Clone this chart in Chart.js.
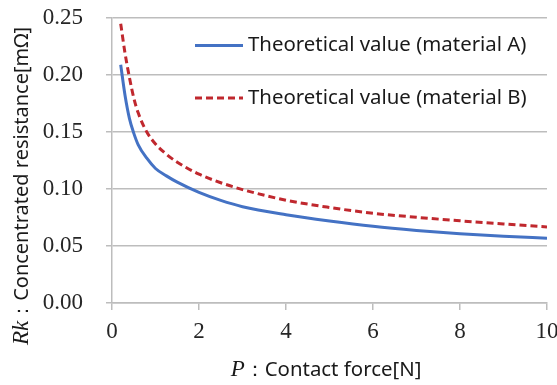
<!DOCTYPE html>
<html>
<head>
<meta charset="utf-8">
<script src="https://cdn.jsdelivr.net/npm/chart.js@4/dist/chart.umd.min.js"></script>
<style>
  html, body { margin: 0; padding: 0; background: #fff; }
  #wrap { position: relative; width: 557px; height: 385px; }
</style>
</head>
<body>
<div id="wrap"><canvas id="c" width="557" height="385"></canvas></div>
<script>
// Contact force P [N]
const forceValues = [0.2, 0.3, 0.4, 0.5, 0.6, 0.8, 1.0, 1.25, 1.5, 2.0, 2.5, 3.0, 4.0, 5.0, 6.0, 7.0, 8.0, 9.0, 10.0];
// Concentrated resistance Rk [mΩ]
const resistanceA = [0.209, 0.182, 0.162, 0.149, 0.139, 0.127, 0.118, 0.1115, 0.106, 0.097, 0.090, 0.0845, 0.0775, 0.0720, 0.0673, 0.0637, 0.0608, 0.0586, 0.0568];
const resistanceB = [0.245, 0.219, 0.198, 0.180, 0.167, 0.150, 0.1395, 0.1305, 0.1235, 0.1130, 0.1055, 0.0995, 0.0902, 0.0838, 0.0787, 0.0752, 0.0721, 0.0693, 0.0667];
const seriesNames = ['Theoretical value (material A)', 'Theoretical value (material B)'];
const xTickValues = [0, 2, 4, 6, 8, 10];
const yTickValues = [0, 0.05, 0.10, 0.15, 0.20, 0.25];

const SANS = '"Noto Sans", "DejaVu Sans", sans-serif';
const SERIF = '"Liberation Serif", "DejaVu Serif", serif';
const GRID = '#bdbdbd';

function toPoints(xs, ys) { return xs.map((x, i) => ({ x: x, y: ys[i] })); }

// Legend drawn inside the plot area, top right
const innerLegend = {
  id: 'innerLegend',
  afterDraw(chart) {
    const ctx = chart.ctx;
    const rows = [45.5, 98];
    ctx.save();
    chart.data.datasets.forEach((ds, i) => {
      const y = rows[i];
      ctx.beginPath();
      ctx.strokeStyle = ds.borderColor;
      ctx.lineWidth = ds.borderWidth;
      ctx.setLineDash(ds.borderDash || []);
      ctx.moveTo(195, y);
      ctx.lineTo(243, y);
      ctx.stroke();
      ctx.setLineDash([]);
      ctx.fillStyle = '#1a1a1a';
      ctx.font = '20.4px ' + SANS;
      ctx.textBaseline = 'middle';
      ctx.textAlign = 'left';
      ctx.fillText(ds.label, 248, y);
    });
    ctx.restore();
  }
};

// Axis titles with an italic serif symbol followed by a sans description
function drawMixed(ctx, parts, cx, cy) {
  let total = 0;
  parts.forEach(p => { ctx.font = p.font; p.w = ctx.measureText(p.text).width; total += p.w; });
  let x = cx - total / 2;
  ctx.textBaseline = 'alphabetic';
  ctx.textAlign = 'left';
  parts.forEach(p => { ctx.font = p.font; ctx.fillText(p.text, x, cy); x += p.w; });
}
const axisTitles = {
  id: 'axisTitles',
  afterDraw(chart) {
    const ctx = chart.ctx;
    ctx.save();
    ctx.fillStyle = '#1a1a1a';
    drawMixed(ctx, [
      { text: 'P', font: 'italic 23px ' + SERIF },
      { text: '：', font: '20.4px ' + SANS },
      { text: 'Contact force[N]', font: '20.4px ' + SANS }
    ], 326, 376);
    ctx.translate(28, 186);
    ctx.rotate(-Math.PI / 2);
    drawMixed(ctx, [
      { text: 'Rk', font: 'italic 23px ' + SERIF },
      { text: '：', font: '20px ' + SANS },
      { text: 'Concentrated resistance[mΩ]', font: '20px ' + SANS }
    ], 0, 0);
    ctx.restore();
  }
};

new Chart(document.getElementById('c'), {
  type: 'line',
  data: {
    datasets: [
      {
        label: seriesNames[0],
        data: toPoints(forceValues, resistanceA),
        borderColor: '#4472C4',
        borderWidth: 3,
        pointRadius: 0,
        cubicInterpolationMode: 'monotone',
        fill: false
      },
      {
        label: seriesNames[1],
        data: toPoints(forceValues, resistanceB),
        borderColor: '#C0282E',
        borderWidth: 3,
        borderDash: [7, 4],
        pointRadius: 0,
        cubicInterpolationMode: 'monotone',
        fill: false
      }
    ]
  },
  options: {
    responsive: false,
    animation: false,
    devicePixelRatio: 1,
    layout: { padding: 0 },
    plugins: { legend: { display: false }, tooltip: { enabled: false } },
    scales: {
      x: {
        type: 'linear',
        min: 0, max: 10,
        afterBuildTicks(scale) { scale.ticks = xTickValues.map(v => ({ value: v })); },
        afterFit(scale) {
          scale.height = 82;
          scale.paddingLeft = 0;
          scale.paddingRight = 10;
        },
        ticks: { font: { family: SERIF, size: 23 }, color: '#262626', padding: 8, maxRotation: 0 },
        grid: { drawOnChartArea: false, drawTicks: true, tickLength: 7, color: GRID, lineWidth: 1.5 },
        border: { display: true, color: GRID, width: 1.5 }
      },
      y: {
        min: 0, max: 0.25,
        afterBuildTicks(scale) { scale.ticks = yTickValues.map(v => ({ value: v })); },
        afterFit(scale) {
          scale.width = 112;
          scale.paddingTop = 18;
          scale.paddingBottom = 0;
        },
        ticks: { font: { family: SERIF, size: 23 }, color: '#262626', padding: 23, callback: v => v.toFixed(2) },
        grid: { drawTicks: true, tickLength: 6, color: GRID, lineWidth: 1.5 },
        border: { display: true, color: GRID, width: 1.5 }
      }
    }
  },
  plugins: [innerLegend, axisTitles]
});
</script>
</body>
</html>
